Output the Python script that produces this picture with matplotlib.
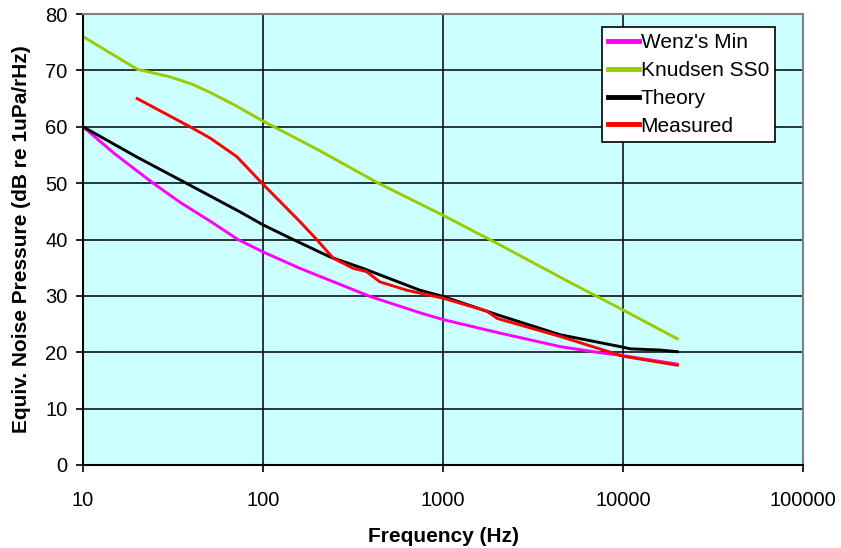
import matplotlib
matplotlib.use("Agg")
import matplotlib.pyplot as plt
from matplotlib.ticker import FixedLocator, FixedFormatter, NullLocator

plt.rcParams['font.family'] = ['Liberation Sans', 'DejaVu Sans']

# curves (Hz, dB)
wenz_f = [10, 15, 24.5, 35, 50, 72.6, 100, 160, 393, 745, 1000, 2070, 4480, 7500, 10000, 20000]
wenz_db = [60, 55.2, 50, 46.5, 43.4, 40, 37.8, 34.9, 29.9, 27.0, 25.8, 23.4, 21, 19.9, 19.4, 17.9]

knud_f = [10, 15, 20, 30, 40, 50, 70, 100, 200, 437, 1000, 2000, 5000, 10000, 20000]
knud_db = [76, 72.6, 70.2, 68.9, 67.6, 66.2, 63.8, 61, 56, 50, 44.3, 39.3, 32.5, 27.5, 22.4]

theory_f = [10, 20, 35.9, 74.5, 100, 147, 236, 358, 745, 1000, 2070, 4480, 9650, 11000, 16000, 20000]
theory_db = [60, 54.6, 50.3, 44.9, 42.6, 40, 36.9, 34.9, 31, 29.9, 26.5, 23.1, 21, 20.6, 20.4, 20.1]

meas_f = [20, 39.3, 50.8, 71.5, 100, 160, 200, 245, 316, 376, 445, 630, 1000, 1750, 2000,
          4480, 10000, 20000]
meas_db = [65, 60, 58, 54.7, 49.8, 43.2, 39.9, 36.7, 34.9, 34.3, 32.5, 31, 29.6, 27.3, 26,
           22.8, 19.3, 17.7]

x_ticks = [10, 100, 1000, 10000, 100000]
x_labels = ['10', '100', '1000', '10000', '100000']
y_ticks = list(range(0, 90, 10))

fig = plt.figure(figsize=(8.41, 5.48), dpi=100)
ax = fig.add_axes([83 / 841, 1 - 465 / 548, 720 / 841, 451 / 548])
ax.set_facecolor('#ccffff')

ax.plot(wenz_f, wenz_db, color='#ff00ff', lw=2.1, label="Wenz's Min")
ax.plot(knud_f, knud_db, color='#99cc00', lw=2.1, label='Knudsen SS0')
ax.plot(theory_f, theory_db, color='black', lw=2.1, label='Theory')
ax.plot(meas_f, meas_db, color='#ff0000', lw=2.1, label='Measured')

ax.set_xscale('log')
ax.set_xlim(10, 100000)
ax.set_ylim(0, 80)
ax.xaxis.set_major_locator(FixedLocator(x_ticks))
ax.xaxis.set_major_formatter(FixedFormatter(x_labels))
ax.xaxis.set_minor_locator(NullLocator())
ax.set_yticks(y_ticks)
ax.grid(True, color='black', lw=1.1)
ax.set_axisbelow(True)

ax.tick_params(direction='out', length=5, width=1.2, labelsize=14.5, pad=6)
ax.tick_params(axis='x', pad=14)
for side in ['left', 'bottom']:
    ax.spines[side].set_color('black')
    ax.spines[side].set_linewidth(1.5)
for side in ['top', 'right']:
    ax.spines[side].set_color('#808080')
    ax.spines[side].set_linewidth(1.5)

ax.set_xlabel('Frequency (Hz)', fontsize=15, fontweight='bold', labelpad=12)
ax.set_ylabel('Equiv. Noise Pressure (dB re 1uPa/rHz)', fontsize=15, fontweight='bold',
              labelpad=10)

leg = ax.legend(loc='upper left', bbox_to_anchor=(0.721, 0.971), fontsize=15,
                frameon=True, fancybox=False, framealpha=1, edgecolor='black',
                handlelength=1.45, handletextpad=0.1, labelspacing=0.42,
                borderpad=0.3, borderaxespad=0)
leg.get_frame().set_linewidth(1.2)
for line in leg.get_lines():
    line.set_linewidth(3.5)

fig.savefig('out.png', dpi=100)
